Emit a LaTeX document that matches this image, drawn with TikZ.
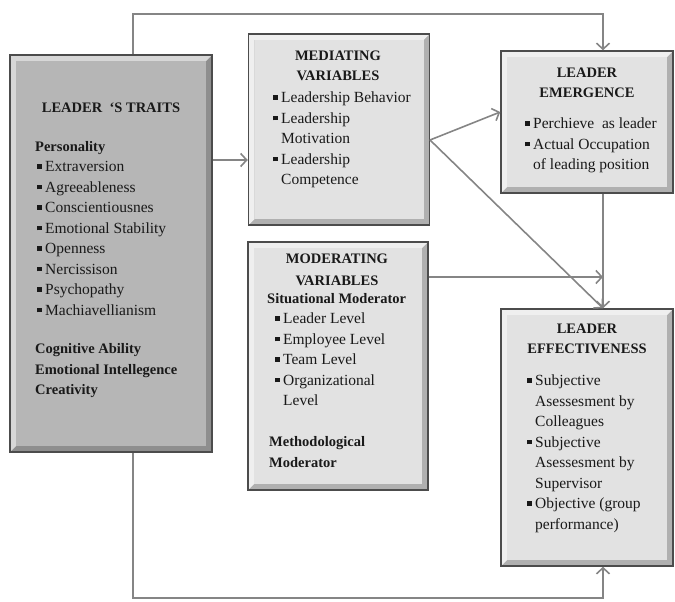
\documentclass[tikz,border=0pt]{standalone}
\usepackage{fontspec}
\setmainfont{Liberation Serif}
\usetikzlibrary{arrows.meta,calc}
\definecolor{face}{HTML}{E2E2E2}
\definecolor{dface}{HTML}{B6B6B6}
\newcommand{\itm}{\makebox[8pt][l]{\rule[3pt]{4.5pt}{4.5pt}}}
\newcommand{\ind}{\hspace*{8pt}}
\newcommand{\hd}[1]{{\fontsize{14.5}{20.5}\selectfont\bfseries #1}}
\tikzset{
  bevel/.style={draw=black!70, line width=1.5pt, inner sep=0pt, fill=#1!78!black,
    path picture={
      \coordinate (pa) at (path picture bounding box.north west);
      \coordinate (pb) at (path picture bounding box.south east);
      \fill[#1!55!white] (pa) -- (pa -| pb) -- ($(pa -| pb)+(-6pt,-6pt)$) -- ($(pa)+(6pt,-6pt)$)
        -- ($(pa |- pb)+(6pt,6pt)$) -- (pa |- pb) -- cycle;
      \fill[#1] ($(pa)+(6pt,-6pt)$) rectangle ($(pb)+(-6pt,6pt)$);
    }},
  txt/.style={font=\fontsize{15.5}{20.5}\selectfont, text=black!90, inner sep=0pt, align=left},
  ttl/.style={font=\fontsize{14.5}{20}\selectfont\bfseries, text=black!90, inner sep=0pt, align=center},
  con/.style={draw=black!48, line width=1.6pt, -{Straight Barb[length=6pt,width=13pt]}}
}
\begin{document}
\begin{tikzpicture}[x=1pt, y=-1pt]
\useasboundingbox (0,0) rectangle (675,602);
\node[bevel=dface, minimum width=202pt, minimum height=397pt] (traits) at (111,253.5) {};
\node[bevel=face, minimum width=181pt, minimum height=191pt] (medi) at (339,129.5) {};
\node[bevel=face, minimum width=180pt, minimum height=248pt] (moder) at (338,366) {};
\node[bevel=face, minimum width=172pt, minimum height=142pt] (emerg) at (587,122) {};
\node[bevel=face, minimum width=172pt, minimum height=257pt] (effect) at (587,437.5) {};

\node[ttl, anchor=base] (traitsT) at (111,113) {LEADER\enspace‘S TRAITS};
\node[txt, anchor=north west] (traitsB) at (35,141.2) {\hd{Personality}\\
  \hspace*{2pt}\itm Extraversion\\ \hspace*{2pt}\itm Agreeableness\\
  \hspace*{2pt}\itm Conscientiousnes\\ \hspace*{2pt}\itm Emotional Stability\\
  \hspace*{2pt}\itm Openness\\ \hspace*{2pt}\itm Nercissison\\
  \hspace*{2pt}\itm Psychopathy\\ \hspace*{2pt}\itm Machiavellianism\\[18pt]
  \hd{Cognitive Ability}\\ \hd{Emotional Intellegence}\\ \hd{Creativity}};

\node[ttl, anchor=north] (mediT) at (338,50.4) {MEDIATING\\VARIABLES};
\node[txt, anchor=north west] (mediB) at (273,91.8) {\itm Leadership Behavior\\
  \itm Leadership\\ \ind Motivation\\ \itm Leadership\\ \ind Competence};

\node[ttl, anchor=north] (moderT) at (337,253.4) {MODERATING\\[2pt]VARIABLES};
\node[txt, anchor=north west] (moderB) at (267,293.2) {\hd{Situational Moderator}\\
  \hspace*{8pt}\itm Leader Level\\ \hspace*{8pt}\itm Employee Level\\
  \hspace*{8pt}\itm Team Level\\ \hspace*{8pt}\itm Organizational\\
  \hspace*{8pt}\ind Level\\[20.5pt]
  \hspace*{2pt}\hd{Methodological}\\ \hspace*{2pt}\hd{Moderator}};

\node[ttl, anchor=north] (emergT) at (587,67.4) {LEADER\\EMERGENCE};
\node[txt, anchor=north west] (emergB) at (525,117.8) {\itm Perchieve\ \ as leader\\
  \itm Actual Occupation\\ \ind of leading position};

\node[ttl, anchor=north] (effectT) at (587,323.4) {LEADER\\EFFECTIVENESS};
\node[txt, anchor=north west] (effectB) at (527,374.8) {\itm Subjective\\
  \ind Asessesment by\\ \ind Colleagues\\ \itm Subjective\\ \ind Asessesment by\\
  \ind Supervisor\\ \itm Objective (group\\ \ind performance)};

\coordinate (up) at (133,14);
\coordinate (dn) at (133,598);
\coordinate (rt) at (603,14);
\coordinate (mout) at (430,140);
\draw[con] (up |- traits.north) -- (up) -- (rt) -- (rt |- emerg.north);
\draw[con] (dn |- traits.south) -- (dn) -- (rt |- dn) -- (rt |- effect.south);
\draw[con] (traits.east |- 0,160) -- (medi.west |- 0,160);
\draw[con] (mout) -- (emerg.west |- 0,112);
\draw[con] (mout) -- (rt |- effect.north);
\draw[con] (rt |- emerg.south) -- (rt |- effect.north);
\draw[con] (moder.east |- 0,277) -- (rt |- 0,277);
\end{tikzpicture}
\end{document}
